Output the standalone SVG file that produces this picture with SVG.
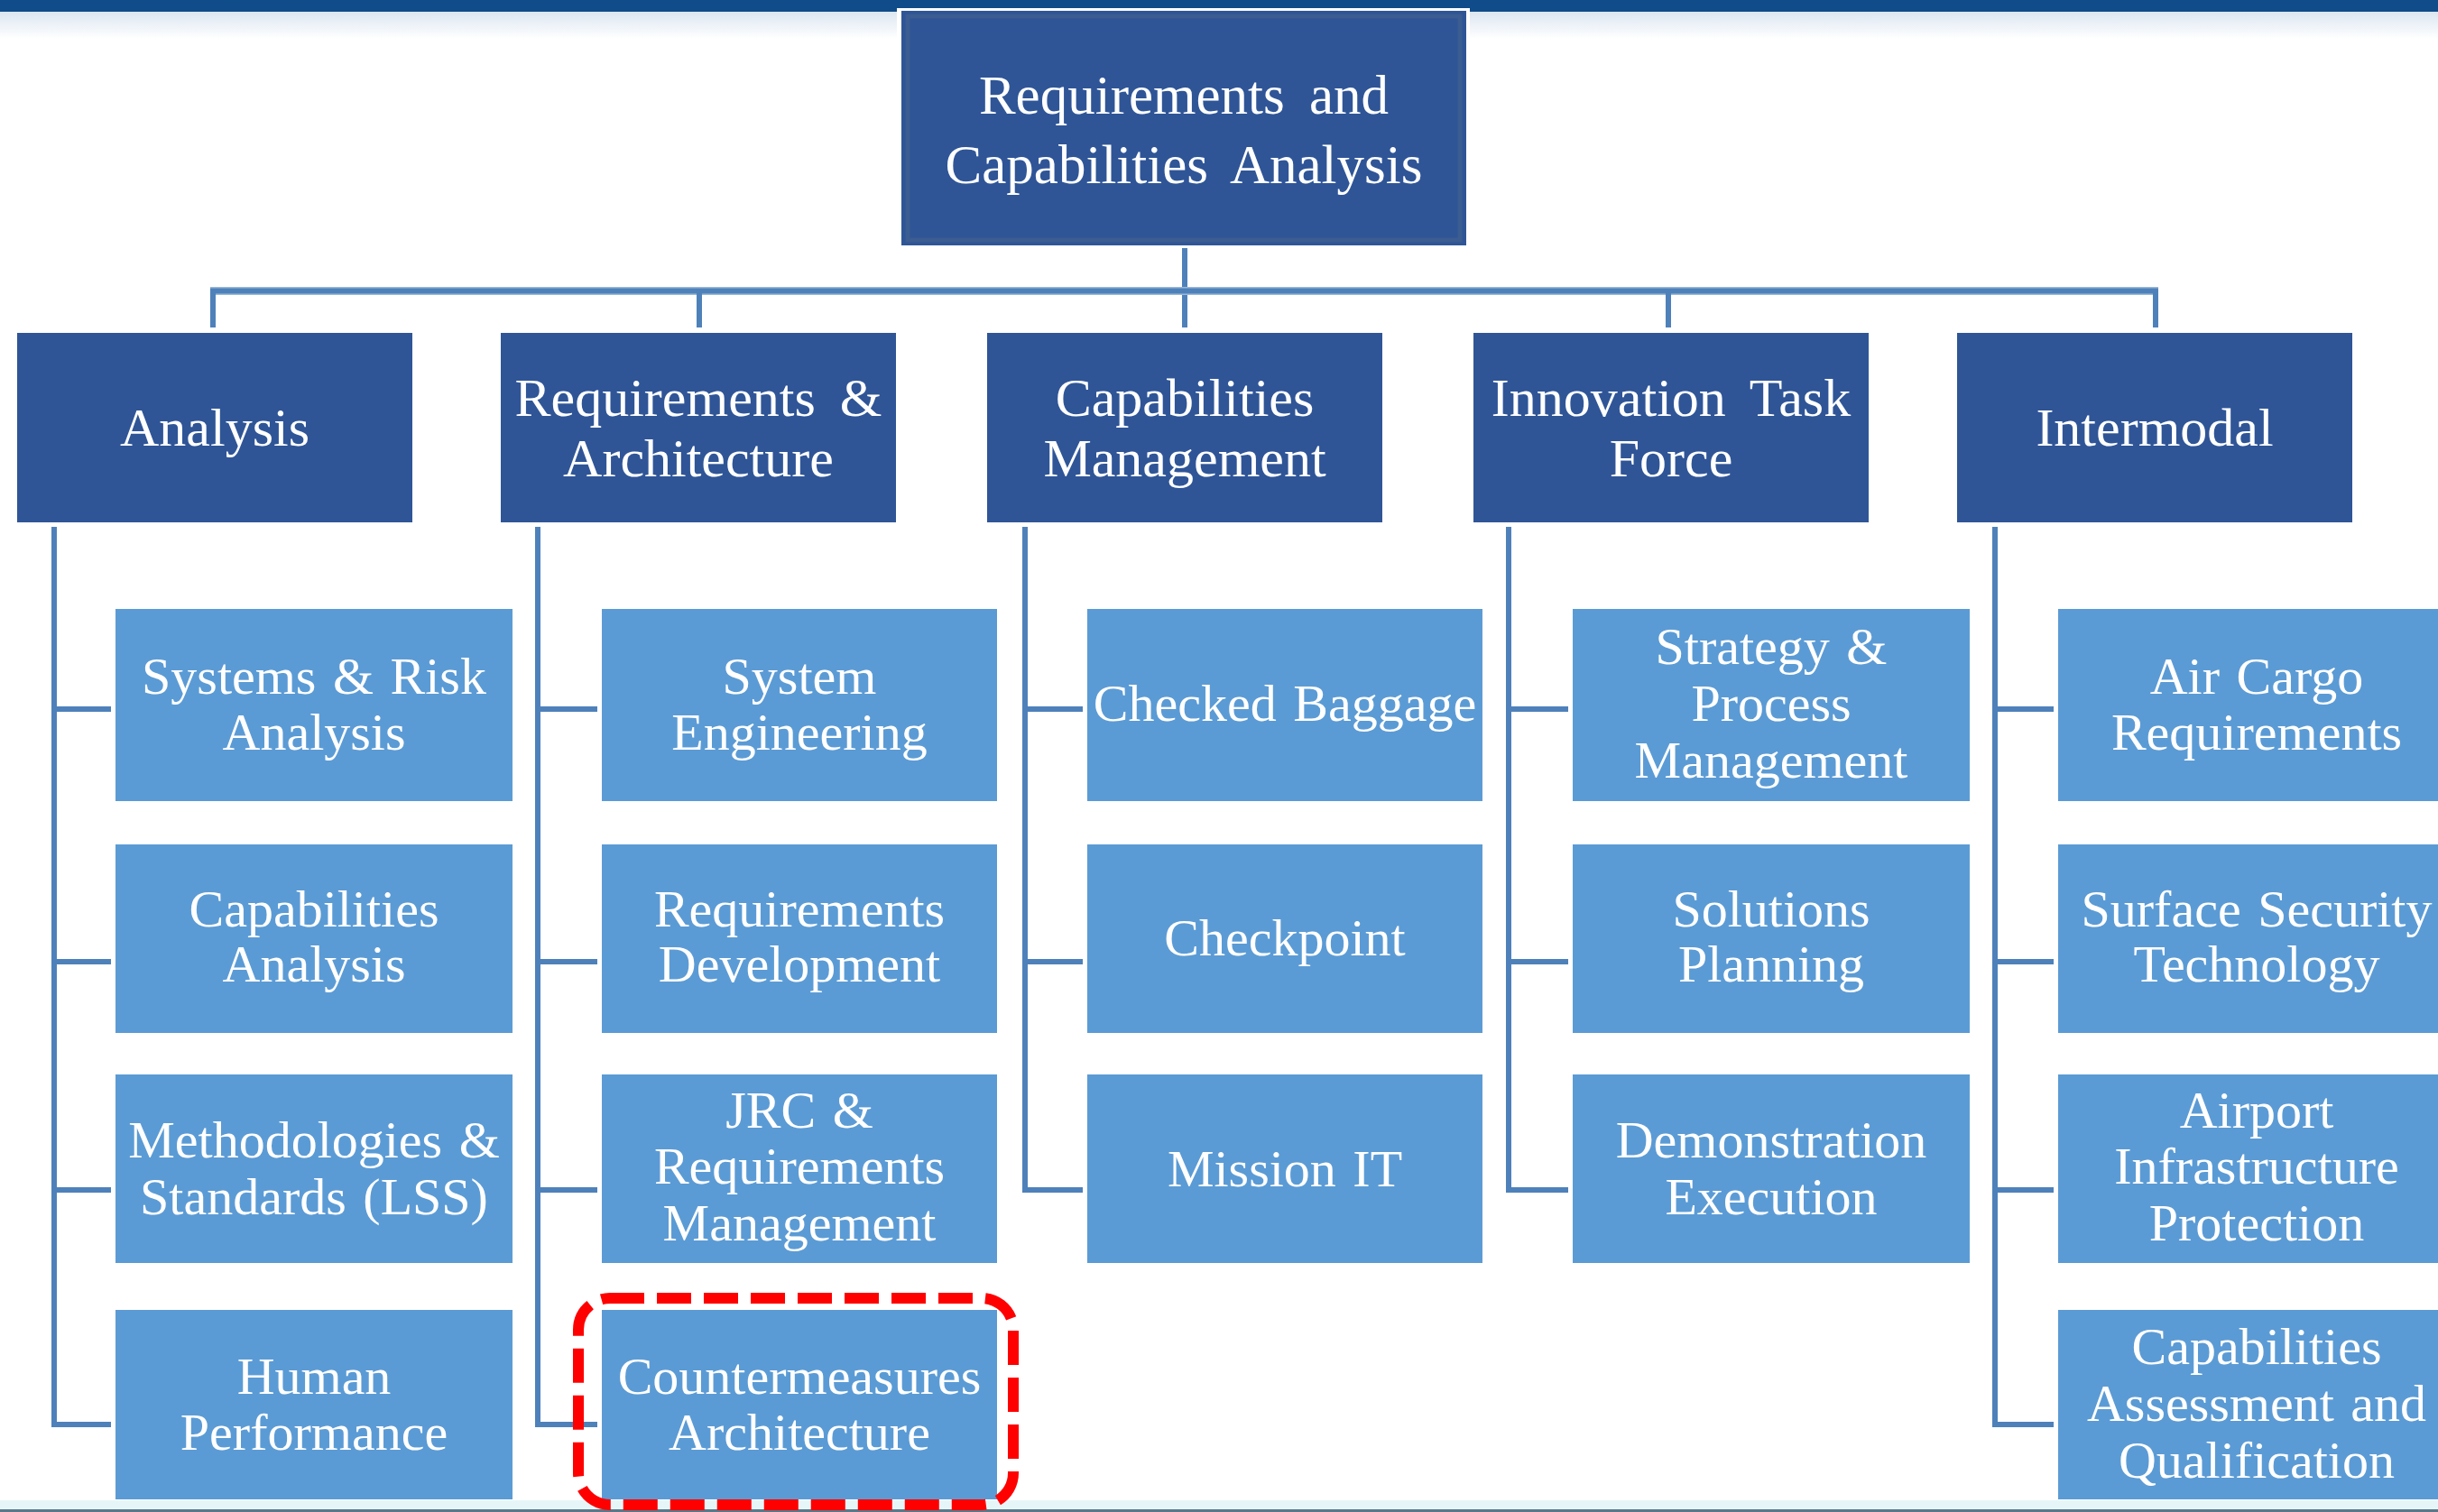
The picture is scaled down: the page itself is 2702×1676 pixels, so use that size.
<svg xmlns="http://www.w3.org/2000/svg" width="2702" height="1676" viewBox="0 0 2702 1676">
<defs>
<linearGradient id="topfade" x1="0" y1="0" x2="0" y2="1">
<stop offset="0" stop-color="#DCE6F1"/>
<stop offset="1" stop-color="#FFFFFF"/>
</linearGradient>
<style>
.l1 { fill: #2F5597; }
.l2 { fill: #5B9BD5; }
.t0 { font-family: "Liberation Serif", "Times New Roman", serif; font-size: 61px; fill: #FFFFFF; text-anchor: middle; word-spacing: 12px; }
.t1 { font-family: "Liberation Serif", "Times New Roman", serif; font-size: 60px; fill: #FFFFFF; text-anchor: middle; word-spacing: 12px; }
.t2 { font-family: "Liberation Serif", "Times New Roman", serif; font-size: 58px; fill: #FFFFFF; text-anchor: middle; word-spacing: 4px; }
.c { stroke: #4E81BA; stroke-width: 6; fill: none; }
.cl { stroke: #9DB8D6; stroke-width: 9; fill: none; }
</style>
</defs>
<rect x="0" y="0" width="2702" height="1676" fill="#FFFFFF"/>
<rect x="0" y="13" width="2702" height="30" fill="url(#topfade)"/>
<rect x="0" y="0" width="2702" height="13" fill="#0F4C89"/>
<rect x="0" y="1663" width="2702" height="10" fill="#E6F6F8"/>
<rect x="0" y="1673" width="2702" height="3" fill="#5C7788"/>

<g id="connectors">
<line class="c" x1="1313" y1="272" x2="1313" y2="363"/>
<line class="cl" x1="233" y1="322.5" x2="2392" y2="322.5"/>
<line class="c" x1="233" y1="322.5" x2="2392" y2="322.5" stroke-width="4"/>
<line class="c" x1="236" y1="320" x2="236" y2="363"/>
<line class="c" x1="775" y1="320" x2="775" y2="363"/>
<line class="c" x1="1849" y1="320" x2="1849" y2="363"/>
<line class="c" x1="2389" y1="320" x2="2389" y2="363"/>
<path class="c" d="M60 584 V1579 M57 786 H123 M57 1066 H123 M57 1319 H123 M57 1579 H123"/>
<path class="c" d="M596 584 V1579 M593 786 H662 M593 1066 H662 M593 1319 H662 M593 1579 H662"/>
<path class="c" d="M1136 584 V1319 M1133 786 H1200 M1133 1066 H1200 M1133 1319 H1200"/>
<path class="c" d="M1672 584 V1319 M1669 786 H1738 M1669 1066 H1738 M1669 1319 H1738"/>
<path class="c" d="M2211 584 V1579 M2208 786 H2276 M2208 1066 H2276 M2208 1319 H2276 M2208 1579 H2276"/>
</g>

<g id="root">
<rect x="994" y="9" width="635" height="266" fill="#FFFFFF"/>
<rect class="l1" x="999" y="12" width="626" height="260"/>
<rect x="1006" y="18" width="612" height="248" fill="none" stroke="#3B5D91" stroke-width="5"/>
<text class="t0" x="1312" y="126">Requirements and</text>
<text class="t0" x="1312" y="203">Capabilities Analysis</text>
</g>

<g id="analysis"><rect class="l1" x="19" y="369" width="438" height="210"/><text class="t1" x="238" y="494">Analysis</text></g>
<g id="req-arch"><rect class="l1" x="555" y="369" width="438" height="210"/><text class="t1" x="774" y="461">Requirements &amp;</text><text class="t1" x="774" y="528">Architecture</text></g>
<g id="cap-mgmt"><rect class="l1" x="1094" y="369" width="438" height="210"/><text class="t1" x="1313" y="461">Capabilities</text><text class="t1" x="1313" y="528">Management</text></g>
<g id="itf"><rect class="l1" x="1633" y="369" width="438" height="210"/><text class="t1" x="1852" y="461">Innovation Task</text><text class="t1" x="1852" y="528">Force</text></g>
<g id="intermodal"><rect class="l1" x="2169" y="369" width="438" height="210"/><text class="t1" x="2388" y="494">Intermodal</text></g>

<g id="sys-risk"><rect class="l2" x="128" y="675" width="440" height="213"/><text class="t2" x="348" y="769">Systems &amp; Risk</text><text class="t2" x="348" y="831">Analysis</text></g>
<g id="cap-analysis"><rect class="l2" x="128" y="936" width="440" height="209"/><text class="t2" x="348" y="1027">Capabilities</text><text class="t2" x="348" y="1088">Analysis</text></g>
<g id="methodologies"><rect class="l2" x="128" y="1191" width="440" height="209"/><text class="t2" x="348" y="1283">Methodologies &amp;</text><text class="t2" x="348" y="1346">Standards (LSS)</text></g>
<g id="human-perf"><rect class="l2" x="128" y="1452" width="440" height="210"/><text class="t2" x="348" y="1545">Human</text><text class="t2" x="348" y="1607">Performance</text></g>

<g id="system-eng"><rect class="l2" x="667" y="675" width="438" height="213"/><text class="t2" x="886" y="769">System</text><text class="t2" x="886" y="831">Engineering</text></g>
<g id="req-dev"><rect class="l2" x="667" y="936" width="438" height="209"/><text class="t2" x="886" y="1027">Requirements</text><text class="t2" x="886" y="1088">Development</text></g>
<g id="jrc"><rect class="l2" x="667" y="1191" width="438" height="209"/><text class="t2" x="886" y="1250">JRC &amp;</text><text class="t2" x="886" y="1312">Requirements</text><text class="t2" x="886" y="1375">Management</text></g>
<g id="countermeasures"><rect class="l2" x="667" y="1452" width="438" height="210"/><text class="t2" x="886" y="1545">Countermeasures</text><text class="t2" x="886" y="1607">Architecture</text></g>

<g id="checked-baggage"><rect class="l2" x="1205" y="675" width="438" height="213"/><text class="t2" x="1424" y="799">Checked Baggage</text></g>
<g id="checkpoint"><rect class="l2" x="1205" y="936" width="438" height="209"/><text class="t2" x="1424" y="1059">Checkpoint</text></g>
<g id="mission-it"><rect class="l2" x="1205" y="1191" width="438" height="209"/><text class="t2" x="1424" y="1315">Mission IT</text></g>

<g id="strategy"><rect class="l2" x="1743" y="675" width="440" height="213"/><text class="t2" x="1963" y="736">Strategy &amp;</text><text class="t2" x="1963" y="799">Process</text><text class="t2" x="1963" y="862">Management</text></g>
<g id="solutions"><rect class="l2" x="1743" y="936" width="440" height="209"/><text class="t2" x="1963" y="1027">Solutions</text><text class="t2" x="1963" y="1088">Planning</text></g>
<g id="demonstration"><rect class="l2" x="1743" y="1191" width="440" height="209"/><text class="t2" x="1963" y="1283">Demonstration</text><text class="t2" x="1963" y="1346">Execution</text></g>

<g id="air-cargo"><rect class="l2" x="2281" y="675" width="440" height="213"/><text class="t2" x="2501" y="769">Air Cargo</text><text class="t2" x="2501" y="831">Requirements</text></g>
<g id="surface"><rect class="l2" x="2281" y="936" width="440" height="209"/><text class="t2" x="2501" y="1027">Surface Security</text><text class="t2" x="2501" y="1088">Technology</text></g>
<g id="airport"><rect class="l2" x="2281" y="1191" width="440" height="209"/><text class="t2" x="2501" y="1250">Airport</text><text class="t2" x="2501" y="1312">Infrastructure</text><text class="t2" x="2501" y="1375">Protection</text></g>
<g id="cap-assess"><rect class="l2" x="2281" y="1452" width="440" height="210"/><text class="t2" x="2501" y="1512">Capabilities</text><text class="t2" x="2501" y="1575">Assessment and</text><text class="t2" x="2501" y="1638">Qualification</text></g>

<g id="highlight">
<rect x="641" y="1439" width="482" height="229" rx="35" ry="35" fill="none" stroke="#FF0000" stroke-width="12" stroke-dasharray="38 14"/>
</g>
</svg>
